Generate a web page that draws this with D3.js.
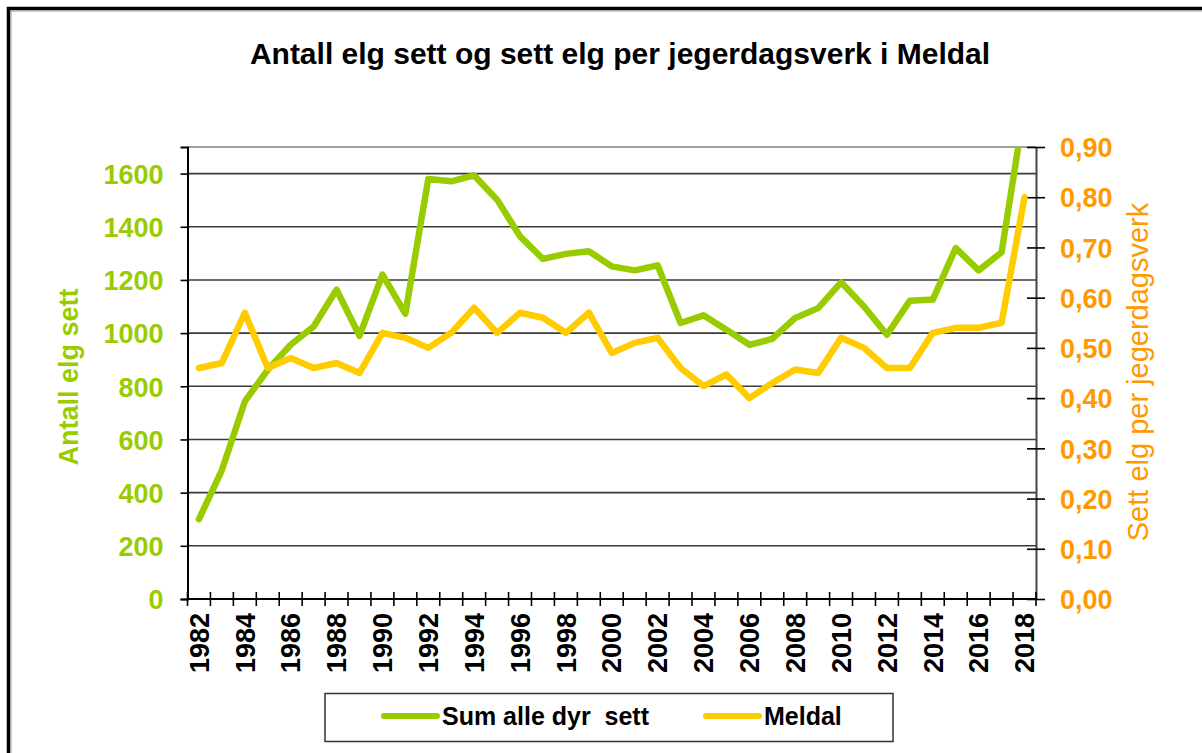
<!DOCTYPE html>
<html>
<head>
<meta charset="utf-8">
<script src="https://d3js.org/d3.v7.min.js"></script>
<style>
	body { margin: 0; background: #fff; }
	text { font-family: "Liberation Sans", Arial, sans-serif; }
</style>
</head>
<body>
<div id="my_dataviz"></div>
<script>
var W = 1202,
	H = 753;
var margin = { top: 147, right: 166, bottom: 154, left: 187.5 },
	width = W - margin.left - margin.right,
	height = H - margin.top - margin.bottom;

const YEARS = d3.range(1982, 2019);
const SUM_SETT = [
	300, 485, 743, 862, 956, 1025, 1163, 990, 1220, 1073,
	1580, 1571, 1593, 1502, 1364, 1279, 1298, 1308, 1251, 1236,
	1255, 1038, 1067, 1013, 956, 978, 1057, 1094, 1191, 1100,
	994, 1122, 1126, 1320, 1236, 1304, 1850
];
const MELDAL = [
	0.46, 0.47, 0.57, 0.46, 0.48, 0.46, 0.47, 0.45, 0.53, 0.52,
	0.5, 0.53, 0.58, 0.53, 0.57, 0.56, 0.53, 0.57, 0.49, 0.51,
	0.52, 0.46, 0.424, 0.447, 0.4, 0.43, 0.457, 0.45, 0.52, 0.5,
	0.46, 0.46, 0.53, 0.54, 0.54, 0.55, 0.8
];
const LEFT_TICKS = [0, 200, 400, 600, 800, 1000, 1200, 1400, 1600];
const RIGHT_TICKS = [0, 0.1, 0.2, 0.3, 0.4, 0.5, 0.6, 0.7, 0.8, 0.9];
const YEAR_LABELS = YEARS.filter(function (d) {
	return d % 2 === 0;
});

var GREEN = "#99cc00",
	YELLOW = "#ffcc00",
	ORANGE = "#ff9900";

var svg = d3
	.select("#my_dataviz")
	.append("svg")
	.attr("width", W)
	.attr("height", H);

// outer frame (only top and left edges show)
svg.append("rect")
	.attr("x", 8.5).attr("y", 8.5)
	.attr("width", W + 20).attr("height", H + 20)
	.attr("fill", "none").attr("stroke", "#000").attr("stroke-width", 3.5);
svg.append("path")
	.attr("d", "M11," + (H + 5) + "V11H" + (W + 5))
	.attr("fill", "none").attr("stroke", "#999").attr("stroke-width", 1);

svg.append("text")
	.attr("x", 620)
	.attr("y", 64)
	.attr("text-anchor", "middle")
	.style("font-size", "30px")
	.style("font-weight", "bold")
	.text("Antall elg sett og sett elg per jegerdagsverk i Meldal");

var g = svg.append("g")
	.attr("transform", "translate(" + margin.left + "," + margin.top + ")");

var x = d3.scaleBand().domain(YEARS).range([0, width]).padding(0);
var y = d3.scaleLinear().domain([0, 1700]).range([height, 0]);
var y2 = d3.scaleLinear().domain([0, 0.9]).range([height, 0]);

g.append("clipPath").attr("id", "plotclip")
	.append("rect").attr("width", width).attr("height", height);

// plot area border at top
g.append("line")
	.attr("x1", 0).attr("x2", width).attr("y1", 0).attr("y2", 0)
	.attr("stroke", "#a0a0a0").attr("stroke-width", 2);

// gridlines
g.append("g")
	.selectAll("line")
	.data(LEFT_TICKS.slice(1))
	.enter()
	.append("line")
	.attr("x1", 0)
	.attr("x2", width)
	.attr("y1", function (d) { return y(d); })
	.attr("y2", function (d) { return y(d); })
	.attr("stroke", "#3a3a3a")
	.attr("stroke-width", 1.6);

// left axis
var leftAxis = g.append("g")
	.call(d3.axisLeft(y).tickValues(LEFT_TICKS).tickSize(7).tickPadding(17).tickFormat(d3.format("d")));
leftAxis.select(".domain").attr("stroke", "#000").attr("stroke-width", 2);
leftAxis.selectAll(".tick line").attr("stroke", "#000").attr("stroke-width", 1.6);
leftAxis.selectAll("text")
	.attr("fill", GREEN)
	.style("font-size", "27px")
	.style("font-weight", "bold")
	.attr("dy", "0.36em");

// right axis
var rightAxis = g.append("g")
	.attr("transform", "translate(" + width + ",0)")
	.call(d3.axisRight(y2).tickValues(RIGHT_TICKS).tickSizeInner(9).tickSizeOuter(0).tickPadding(15)
		.tickFormat(function (d) { return d3.format(".2f")(d).replace(".", ","); }));
rightAxis.select(".domain").attr("stroke", "#444").attr("stroke-width", 2);
rightAxis.selectAll(".tick line").attr("x1", -9).attr("stroke", "#000").attr("stroke-width", 1.6);
rightAxis.selectAll("text")
	.attr("fill", ORANGE)
	.style("font-size", "27px")
	.style("font-weight", "bold")
	.attr("dy", "0.36em");

// bottom axis with cross ticks at category boundaries
var bottom = g.append("g").attr("transform", "translate(0," + height + ")");
bottom.append("line")
	.attr("x1", 0).attr("x2", width)
	.attr("stroke", "#000").attr("stroke-width", 2);
bottom.selectAll(".xt")
	.data(YEARS.concat([2019]))
	.enter()
	.append("line")
	.attr("class", "xt")
	.attr("x1", function (d, i) { return i * x.bandwidth(); })
	.attr("x2", function (d, i) { return i * x.bandwidth(); })
	.attr("y1", -7)
	.attr("y2", 7)
	.attr("stroke", "#000")
	.attr("stroke-width", 1.6);
bottom.selectAll(".xl")
	.data(YEAR_LABELS)
	.enter()
	.append("text")
	.attr("class", "xl")
	.attr("transform", function (d) {
		return "translate(" + (x(d) + x.bandwidth() / 2) + ",14)rotate(-90)";
	})
	.attr("dy", "0.36em")
	.attr("text-anchor", "end")
	.style("font-size", "27px")
	.style("font-weight", "bold")
	.text(function (d) { return d; });

// lines
var greenLine = d3.line()
	.x(function (d, i) { return x(YEARS[i]) + x.bandwidth() / 2; })
	.y(function (d) { return y(d); });
var yellowLine = d3.line()
	.x(function (d, i) { return x(YEARS[i]) + x.bandwidth() / 2; })
	.y(function (d) { return y2(d); });

g.append("path")
	.datum(SUM_SETT)
	.attr("clip-path", "url(#plotclip)")
	.attr("fill", "none")
	.attr("stroke", GREEN)
	.attr("stroke-width", 6.5)
	.attr("stroke-linejoin", "round")
	.attr("stroke-linecap", "round")
	.attr("d", greenLine);

g.append("path")
	.datum(MELDAL)
	.attr("fill", "none")
	.attr("stroke", YELLOW)
	.attr("stroke-width", 6.5)
	.attr("stroke-linejoin", "round")
	.attr("stroke-linecap", "round")
	.attr("d", yellowLine);

// axis titles
svg.append("text")
	.attr("transform", "translate(68,377)rotate(-90)")
	.attr("dy", "0.36em")
	.attr("text-anchor", "middle")
	.attr("fill", GREEN)
	.style("font-size", "27px")
	.style("font-weight", "bold")
	.text("Antall elg sett");

svg.append("text")
	.attr("transform", "translate(1138,372)rotate(-90)")
	.attr("dy", "0.36em")
	.attr("text-anchor", "middle")
	.attr("fill", ORANGE)
	.style("font-size", "29px")
	.text("Sett elg per jegerdagsverk");

// legend
var legend = svg.append("g");
legend.append("rect")
	.attr("x", 325).attr("y", 693.5)
	.attr("width", 568).attr("height", 48)
	.attr("fill", "#fff").attr("stroke", "#333").attr("stroke-width", 1.5);

var legendItems = [
	{ name: "Sum alle dyr  sett", color: GREEN, x: 384 },
	{ name: "Meldal", color: YELLOW, x: 706 }
];
legendItems.forEach(function (d) {
	legend.append("line")
		.attr("x1", d.x).attr("x2", d.x + 53)
		.attr("y1", 716).attr("y2", 716)
		.attr("stroke", d.color).attr("stroke-width", 6)
		.attr("stroke-linecap", "round");
	legend.append("text")
		.attr("x", d.x + 58)
		.attr("y", 725)
		.style("font-size", "25px")
		.style("font-weight", "bold")
		.style("white-space", "pre")
		.text(d.name);
});
</script>
</body>
</html>
